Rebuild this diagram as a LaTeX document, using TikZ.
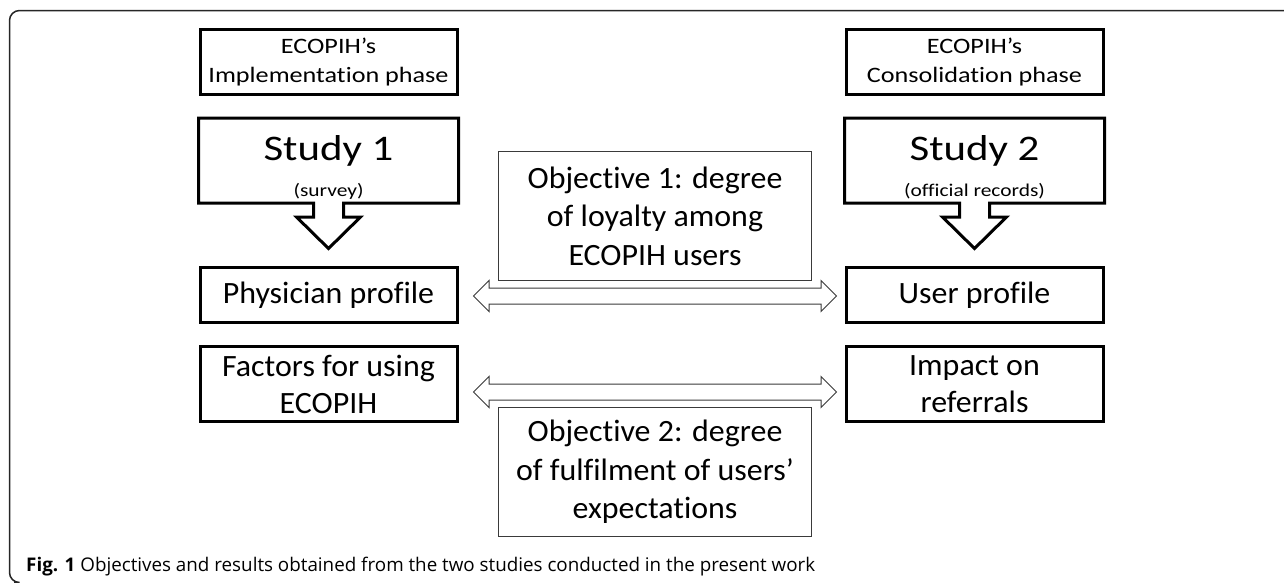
\documentclass[tikz,border=0pt]{standalone}
\usepackage{fontspec}
\setmainfont{Carlito}[RawFeature=-liga, FakeStretch=1.03]
\newfontfamily\widefont{Carlito}[RawFeature=-liga, FakeStretch=1.19]
\newfontfamily\capfont{Open Sans}
\usetikzlibrary{calc,shapes.arrows}

\definecolor{thinline}{HTML}{3A3A3A}

\tikzset{
  phasebox/.style={draw=black, line width=3pt, minimum width=257pt, minimum height=65pt, inner sep=0pt, align=center, font=\widefont\fontsize{22}{29}\selectfont},
  studybox/.style={draw=none, line width=3pt, minimum width=257pt, minimum height=82pt, inner sep=0pt},
  studytext/.style={inner sep=0pt, align=center, font=\widefont\fontsize{36}{35}\selectfont},
  calloutline/.style={draw=black, fill=white, line width=3pt, line join=miter},
  resultbox/.style={draw=black, line width=3pt, minimum width=257pt, inner sep=0pt, align=center, font=\fontsize{31}{37}\selectfont},
  objbox/.style={draw=thinline, line width=1pt, minimum width=313pt, minimum height=129pt, inner sep=0pt, align=center, font=\fontsize{31}{38.5}\selectfont},
  dblarrow/.style={double arrow, draw=thinline, fill=white, line width=1pt, minimum height=363pt, inner xsep=0pt, inner ysep=7.5pt, double arrow head extend=7.5pt},
  frameline/.style={draw=black!85, line width=1.5pt}
}

\begin{document}
\begin{tikzpicture}[x=1pt,y=-1pt]
\useasboundingbox (0,0) rectangle (1284,582);

% frame round the figure
\draw[frameline, rounded corners=10pt] (14,582.5) -- (9.5,582.5) -- (9.5,10.5) -- (1300,10.5);

% phases
\node[phasebox] (implementation) at (328.5,62) {ECOPIH’s\\Implementation phase};
\node[phasebox] (consolidation) at (974.5,62) {ECOPIH’s\\Consolidation phase};

% studies with their arrows
\node[studybox] (study1) at (328.5,160.5) {};
\draw[calloutline] (study1.south west) -- (study1.north west) -- (study1.north east) -- (study1.south east)
  -- ($(study1.south)+(15,0)$) -- ++(0,14) -- ++(17,0) -- ($(study1.south)+(0,45.5)$)
  -- ($(study1.south)+(-32,14)$) -- ++(17,0) -- ($(study1.south)+(-15,0)$) -- cycle;
\node[studytext] (study1txt) at (328.5,167) {Study 1\\[1pt]{\fontsize{18}{18}\selectfont (survey)}};

\node[studybox] (study2) at (974.5,160.5) {};
\draw[calloutline] (study2.south west) -- (study2.north west) -- (study2.north east) -- (study2.south east)
  -- ($(study2.south)+(15,0)$) -- ++(0,14) -- ++(17,0) -- ($(study2.south)+(0,45.5)$)
  -- ($(study2.south)+(-32,14)$) -- ++(17,0) -- ($(study2.south)+(-15,0)$) -- cycle;
\node[studytext] (study2txt) at (974.5,167) {Study 2\\[1pt]{\fontsize{18}{18}\selectfont (official records)}};

% results
\node[resultbox, minimum height=55pt] (physician) at (328.5,295) {Physician profile};
\node[resultbox, minimum height=75pt] (factors) at (328.5,384) {Factors for using\\ECOPIH};
\node[resultbox, minimum height=55pt] (user) at (974.5,295) {User profile};
\node[resultbox, minimum height=75pt] (impact) at (974.5,384) {Impact on\\referrals};

% objectives
\node[objbox] (objective1) at (655,216) {Objective 1: degree\\of loyalty among\\ECOPIH users};
\node[objbox] (objective2) at (655,472) {Objective 2: degree\\of fulfilment of users’\\expectations};

\node[dblarrow] (link1) at ($(physician.east)!0.5!(user.west)+(3.5,1)$) {};
\node[dblarrow] (link2) at ($(factors.east)!0.5!(impact.west)+(3.5,8)$) {};

% caption
\node[anchor=base west, inner sep=0pt, font=\capfont\fontsize{18.8}{21}\selectfont] (caption) at (26,571.5)
  {\textbf{Fig. 1} Objectives and results obtained from the two studies conducted in the present work};
\end{tikzpicture}
\end{document}
